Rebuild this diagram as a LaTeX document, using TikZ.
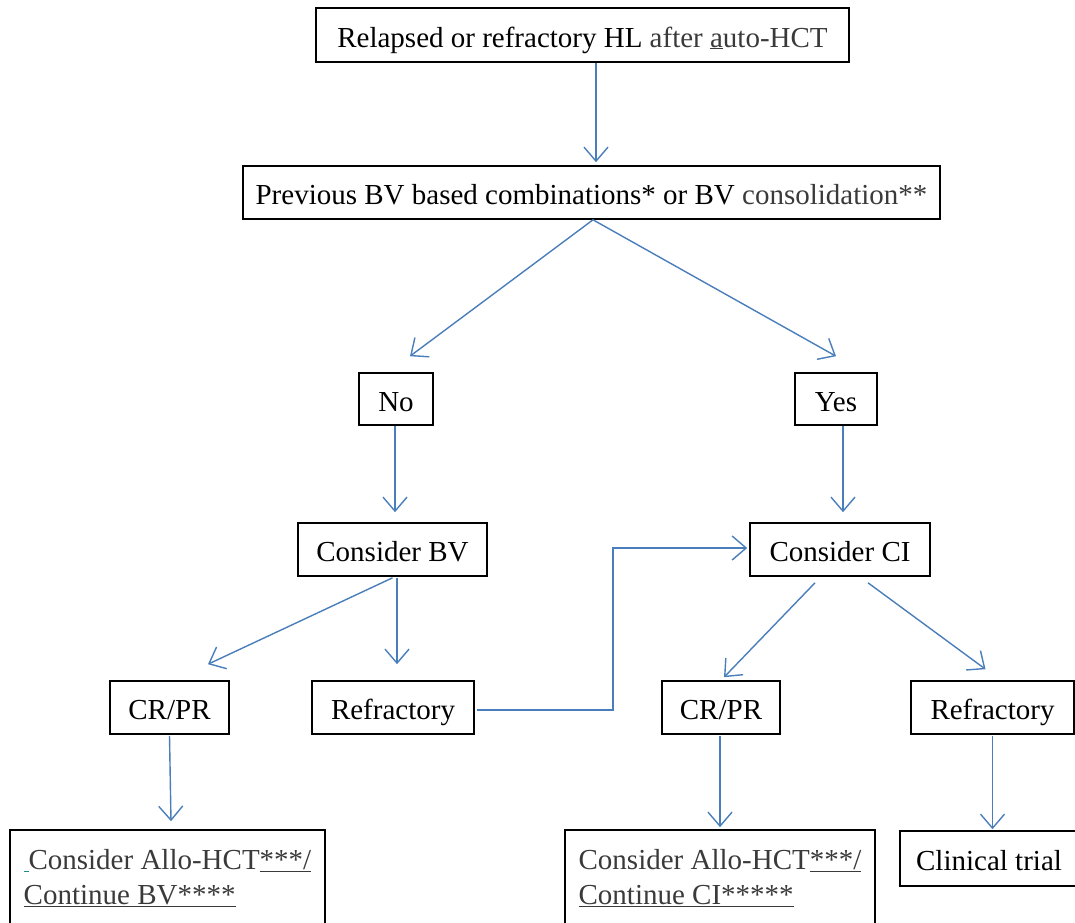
\documentclass[tikz,border=0pt]{standalone}
\usepackage{fontspec}
\setmainfont{Liberation Serif}
\usetikzlibrary{arrows.meta,calc}
\definecolor{arrowblue}{HTML}{4A7EBB}
\definecolor{greytext}{HTML}{3A3A3A}
\definecolor{tealmark}{HTML}{1F8A8A}
\begin{document}
\begin{tikzpicture}[x=1pt,y=-1pt,
  box/.style={draw=black,line width=1.6pt,inner sep=0pt,font=\fontsize{29}{35}\selectfont},
  onebox/.style={box,text height=25pt,text depth=1pt},
  arr/.style={draw=arrowblue,line width=1.4pt,-{Straight Barb[length=14pt,width=24pt,line width=1.4pt]}},
]
\useasboundingbox (0,0) rectangle (1075,922);

\node[onebox,minimum width=533,minimum height=54] (top) at (582.5,35)
  {Relapsed or refractory HL \textcolor{greytext}{after \underline{a}uto-HCT}};
\node[onebox,minimum width=697,minimum height=53] (prev) at (591.5,192.5)
  {Previous BV based combinations* or BV \textcolor{greytext}{consolidation**}};
\node[onebox,minimum width=74,minimum height=52] (no) at (396,399) {No};
\node[onebox,minimum width=82,minimum height=52] (yes) at (836,399) {Yes};
\node[onebox,minimum width=189,minimum height=53] (cbv) at (392.5,549.5) {Consider BV};
\node[onebox,minimum width=180,minimum height=53] (cci) at (840,549.5) {Consider CI};
\node[onebox,minimum width=119,minimum height=53] (crl) at (169.5,707.5) {CR/PR};
\node[onebox,minimum width=162,minimum height=53] (refl) at (393,707.5) {Refractory};
\node[onebox,minimum width=118,minimum height=53] (crr) at (721,707.5) {CR/PR};
\node[onebox,minimum width=163,minimum height=53] (refr) at (992.5,707.5) {Refractory};
\node[box,minimum width=315,minimum height=96,align=left,text=greytext] (bl) at (167.5,878)
  {\textcolor{tealmark}{\underline{\,}}Consider Allo-HCT\underline{***/}\\\underline{Continue BV****}};
\node[box,minimum width=310,minimum height=96,align=left,text=greytext] (bm) at (720,878)
  {Consider Allo-HCT\underline{***/}\\\underline{Continue CI*****}};
\node[onebox,minimum width=178,minimum height=55] (ct) at (989,858.5) {Clinical trial};

\draw[arr] ($(top.south)+(13.5,0)$) -- ($(prev.north)+(4.5,-3)$);
\draw[arr] ($(prev.south)+(1.5,0)$) -- ($(no.north)+(14,-16)$);
\draw[arr] ($(prev.south)+(1.5,0)$) -- ($(yes.north)+(0,-16)$);
\draw[arr] ($(no.south)+(-1,0)$) -- ($(cbv.north)+(2.5,-10)$);
\draw[arr] ($(yes.south)+(7,0)$) -- ($(cci.north)+(3,-10)$);
\draw[arr] ($(cbv.south)+(0,1)$) -- ($(crl.north)+(38.5,-16)$);
\draw[arr] ($(cbv.south)+(4.5,1)$) -- ($(refl.north)+(4,-16)$);
\draw[arr] ($(refl.east)+(2,2.5)$) -- ++(136,0) |- ($(cci.west)+(-2,-1.5)$);
\draw[arr] ($(cci.south)+(-25,6)$) -- ($(crr.north)+(3,-3)$);
\draw[arr] ($(cci.south)+(28,6)$) -- ($(refr.north)+(-7,-11)$);
\draw[arr] ($(crl.south)+(0,1)$) -- ($(bl.north)+(3.5,-8)$);
\draw[arr] ($(crr.south)+(-1,1)$) -- ($(bm.north)+(0,-2)$);
\draw[arr] ($(refr.south)+(0,1)$) -- ($(ct.north)+(3.5,-1)$);
\end{tikzpicture}
\end{document}
